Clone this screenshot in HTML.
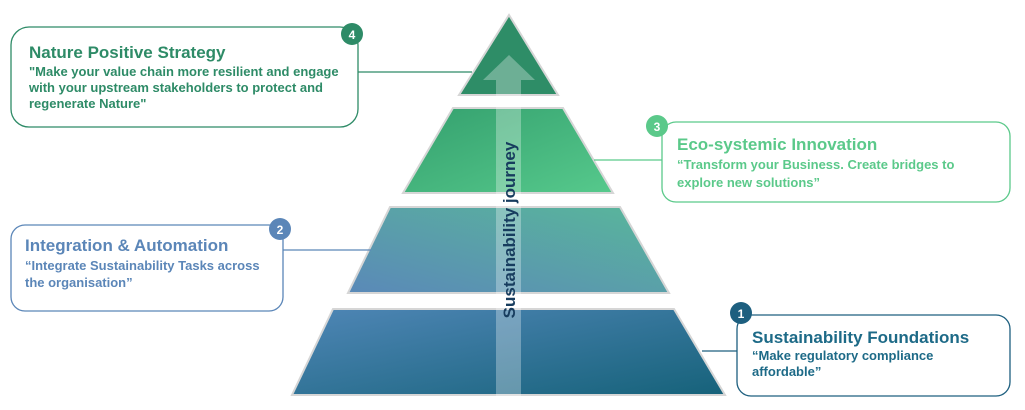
<!DOCTYPE html>
<html><head><meta charset="utf-8"><style>
html,body{margin:0;padding:0;background:#fff;}
svg{display:block;font-family:"Liberation Sans",Arial,sans-serif;font-weight:bold;}
</style></head><body>
<svg width="1025" height="410" viewBox="0 0 1025 410" xmlns="http://www.w3.org/2000/svg">
<defs>
<linearGradient id="g1" x1="0" y1="0" x2="1" y2="1"><stop offset="0" stop-color="#4f86b6"/><stop offset="1" stop-color="#16627a"/></linearGradient>
<linearGradient id="g2" x1="0" y1="1" x2="1" y2="0"><stop offset="0" stop-color="#5a89b8"/><stop offset="1" stop-color="#59b79a"/></linearGradient>
<linearGradient id="g3" x1="0" y1="0" x2="1" y2="1"><stop offset="0" stop-color="#34a06e"/><stop offset="1" stop-color="#56c98c"/></linearGradient>
</defs>
<!-- pyramid -->
<g stroke="#d6d6d6" stroke-width="2">
<polygon points="509,15 558,95 459,95" fill="#2e8d67"/>
<polygon points="453,108 563,108 613,193 403,193" fill="url(#g3)"/>
<polygon points="390,207 620,207 669,293 348,293" fill="url(#g2)"/>
<polygon points="333,309 674,309 725,395 292,395" fill="url(#g1)"/>
</g>
<!-- arrow -->
<polygon points="509,55 535,80 521,80 521,396 496,396 496,80 483,80" fill="#ffffff" fill-opacity="0.3"/>
<text transform="translate(515,230) rotate(-90)" text-anchor="middle" font-size="17" fill="#173c5e">Sustainability journey</text>

<!-- connectors -->
<line x1="358" y1="72" x2="472" y2="72" stroke="#2e8b67" stroke-width="1.3"/>
<line x1="594" y1="160" x2="662" y2="160" stroke="#5bc98a" stroke-width="1.3"/>
<line x1="283" y1="250" x2="371" y2="250" stroke="#5b86b8" stroke-width="1.3"/>
<line x1="702" y1="351" x2="737" y2="351" stroke="#1d5f7f" stroke-width="1.3"/>

<!-- box 4 -->
<rect x="11" y="27" width="347" height="100" rx="18" fill="#fff" stroke="#2e8b67" stroke-width="1.3"/>
<circle cx="352" cy="34" r="11" fill="#2e8b67"/>
<text x="352" y="39" text-anchor="middle" font-size="12" fill="#fff">4</text>
<text x="29" y="58" font-size="17" fill="#2e8b67">Nature Positive Strategy</text>
<g font-size="13" fill="#2e8b67">
<text x="29" y="76">"Make your value chain more resilient and engage</text>
<text x="29" y="92">with your upstream stakeholders to protect and</text>
<text x="29" y="108">regenerate Nature"</text>
</g>

<!-- box 3 -->
<rect x="662" y="122" width="348" height="80" rx="14" fill="#fff" stroke="#5bc98a" stroke-width="1.3"/>
<circle cx="657" cy="126" r="11" fill="#5bc98a"/>
<text x="657" y="131" text-anchor="middle" font-size="12" fill="#fff">3</text>
<text x="677" y="150" font-size="17" fill="#5bc98a">Eco-systemic Innovation</text>
<g font-size="13" fill="#5bc98a">
<text x="677" y="169">“Transform your Business. Create bridges to</text>
<text x="677" y="187">explore new solutions”</text>
</g>

<!-- box 2 -->
<rect x="11" y="225" width="272" height="86" rx="14" fill="#fff" stroke="#5b86b8" stroke-width="1.3"/>
<circle cx="280" cy="229" r="11" fill="#5b86b8"/>
<text x="280" y="234" text-anchor="middle" font-size="12" fill="#fff">2</text>
<text x="25" y="251" font-size="17" fill="#5b86b8">Integration &amp; Automation</text>
<g font-size="13" fill="#5b86b8">
<text x="25" y="270">“Integrate Sustainability Tasks across</text>
<text x="25" y="287">the organisation”</text>
</g>

<!-- box 1 -->
<rect x="737" y="315" width="273" height="81" rx="14" fill="#fff" stroke="#1d5f7f" stroke-width="1.3"/>
<circle cx="741" cy="313" r="11" fill="#1d5f7f"/>
<text x="741" y="318" text-anchor="middle" font-size="12" fill="#fff">1</text>
<text x="752" y="343" font-size="17" fill="#1d6a87">Sustainability Foundations</text>
<g font-size="13" fill="#1d6a87">
<text x="752" y="360">“Make regulatory compliance</text>
<text x="752" y="376">affordable”</text>
</g>
</svg>
</body></html>
